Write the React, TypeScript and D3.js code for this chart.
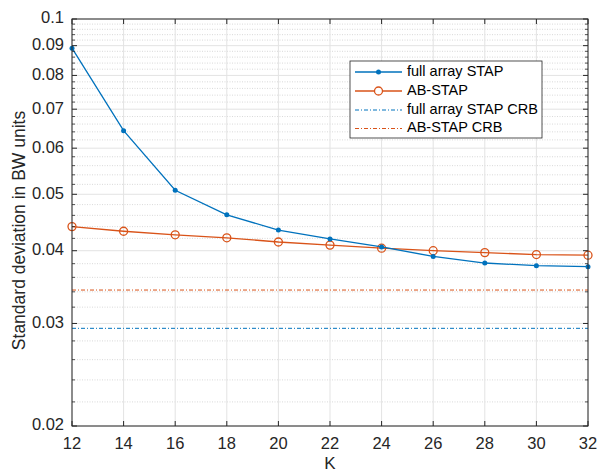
import React from "react";
import * as d3 from "d3";

const K = [12, 14, 16, 18, 20, 22, 24, 26, 28, 30, 32];
const fullArraySTAP = [0.0891, 0.0643, 0.0508, 0.0461, 0.0434, 0.0419, 0.0406, 0.0391, 0.0381, 0.0377, 0.03755];
const abSTAP = [0.0440, 0.0432, 0.0426, 0.0421, 0.0414, 0.0409, 0.0404, 0.0400, 0.0397, 0.0394, 0.0393];
const fullArrayCRB = 0.02943;
const abCRB = 0.03424;
const xTicks = [12, 14, 16, 18, 20, 22, 24, 26, 28, 30, 32];
const yTicks = [0.02, 0.03, 0.04, 0.05, 0.06, 0.07, 0.08, 0.09, 0.1];
const yTickLabels = ["0.02", "0.03", "0.04", "0.05", "0.06", "0.07", "0.08", "0.09", "0.1"];
const legendLabels = ["full array STAP", "AB-STAP", "full array STAP CRB", "AB-STAP CRB"];

const BLUE = "#0072BD";
const ORANGE = "#D95319";
const AX = "#262626";
const FONT = "'Liberation Sans', Arial, Helvetica, sans-serif";

export default function App() {
  const W = 598, H = 473;
  const L = 72, R = 588, T = 19, B = 426;
  const x = d3.scaleLinear().domain([12, 32]).range([L, R]);
  const y = d3.scaleLog().domain([0.02, 0.1]).range([B, T]);

  const minor: number[] = [];
  for (let i = 20; i <= 100; i += 2) {
    if (i % 10 !== 0) minor.push(i / 1000);
  }

  const line = d3.line<number>().x((_, i) => x(K[i])).y((d) => y(d));

  const legX = 350, legY = 61, legW = 192, legH = 77;
  const rowY = [72, 91, 110, 128.5];

  return (
    <svg width={W} height={H} style={{ position: "absolute", left: 0, top: 0, background: "#fff" }} fontFamily={FONT}>
      <rect x={0} y={0} width={W} height={H} fill="#fff" />
      {/* minor grid */}
      {minor.map((v, i) => (
        <line key={"mg" + i} x1={L} x2={R} y1={y(v)} y2={y(v)} stroke="#cfcfcf" strokeWidth={0.8} strokeDasharray="1,1.5" />
      ))}
      {/* major grid */}
      {yTicks.map((v, i) => (
        <line key={"yg" + i} x1={L} x2={R} y1={y(v)} y2={y(v)} stroke="#e3e3e3" strokeWidth={1} />
      ))}
      {xTicks.map((v, i) => (
        <line key={"xg" + i} x1={x(v)} x2={x(v)} y1={T} y2={B} stroke="#e3e3e3" strokeWidth={1} />
      ))}
      {/* CRB lines */}
      <line x1={L} x2={R} y1={y(fullArrayCRB)} y2={y(fullArrayCRB)} stroke={BLUE} strokeWidth={1} strokeDasharray="4,2,1,2" />
      <line x1={L} x2={R} y1={y(abCRB)} y2={y(abCRB)} stroke={ORANGE} strokeWidth={1} strokeDasharray="4,2,1,2" />
      {/* series */}
      <path d={line(abSTAP) || ""} fill="none" stroke={ORANGE} strokeWidth={1.3} />
      {abSTAP.map((v, i) => (
        <circle key={"o" + i} cx={x(K[i])} cy={y(v)} r={4} fill="none" stroke={ORANGE} strokeWidth={1.3} />
      ))}
      <path d={line(fullArraySTAP) || ""} fill="none" stroke={BLUE} strokeWidth={1.3} />
      {fullArraySTAP.map((v, i) => (
        <circle key={"b" + i} cx={x(K[i])} cy={y(v)} r={2.5} fill={BLUE} />
      ))}
      {/* axes box */}
      <rect x={L} y={T} width={R - L} height={B - T} fill="none" stroke={AX} strokeWidth={1} />
      {/* ticks */}
      {xTicks.map((v, i) => (
        <g key={"xt" + i}>
          <line x1={x(v)} x2={x(v)} y1={B} y2={B - 5} stroke={AX} />
          <line x1={x(v)} x2={x(v)} y1={T} y2={T + 5} stroke={AX} />
          <text x={x(v)} y={445} textAnchor="middle" dominantBaseline="middle" fontSize={16.5} fill={AX}>{v}</text>
        </g>
      ))}
      {yTicks.map((v, i) => (
        <g key={"yt" + i}>
          <line x1={L} x2={L + 5} y1={y(v)} y2={y(v)} stroke={AX} />
          <line x1={R} x2={R - 5} y1={y(v)} y2={y(v)} stroke={AX} />
          <text x={64} y={y(v)} textAnchor="end" dominantBaseline="middle" fontSize={16.5} fill={AX}>{yTickLabels[i]}</text>
        </g>
      ))}
      {minor.map((v, i) => (
        <g key={"mt" + i}>
          <line x1={L} x2={L + 3} y1={y(v)} y2={y(v)} stroke={AX} strokeWidth={0.8} />
          <line x1={R} x2={R - 3} y1={y(v)} y2={y(v)} stroke={AX} strokeWidth={0.8} />
        </g>
      ))}
      {/* axis labels */}
      <text x={x(22)} y={465} textAnchor="middle" dominantBaseline="middle" fontSize={17} fill={AX}>K</text>
      <text transform={`translate(20,${(T + B) / 2 + 8}) rotate(-90)`} textAnchor="middle" dominantBaseline="middle" fontSize={17.5} fill={AX}>
        Standard deviation in BW units
      </text>
      {/* legend */}
      <rect x={legX} y={legY} width={legW} height={legH} fill="#fff" stroke={AX} strokeWidth={0.8} />
      <line x1={355} x2={402} y1={rowY[0]} y2={rowY[0]} stroke={BLUE} strokeWidth={1.3} />
      <circle cx={378.5} cy={rowY[0]} r={2.5} fill={BLUE} />
      <line x1={355} x2={402} y1={rowY[1]} y2={rowY[1]} stroke={ORANGE} strokeWidth={1.3} />
      <circle cx={378.5} cy={rowY[1]} r={4} fill="#fff" stroke={ORANGE} strokeWidth={1.3} />
      <line x1={355} x2={402} y1={rowY[2]} y2={rowY[2]} stroke={BLUE} strokeWidth={1} strokeDasharray="4,2,1,2" />
      <line x1={355} x2={402} y1={rowY[3]} y2={rowY[3]} stroke={ORANGE} strokeWidth={1} strokeDasharray="4,2,1,2" />
      {legendLabels.map((t, i) => (
        <text key={"lg" + i} x={407} y={rowY[i]} dominantBaseline="middle" fontSize={14.5} fill="#000">{t}</text>
      ))}
    </svg>
  );
}
